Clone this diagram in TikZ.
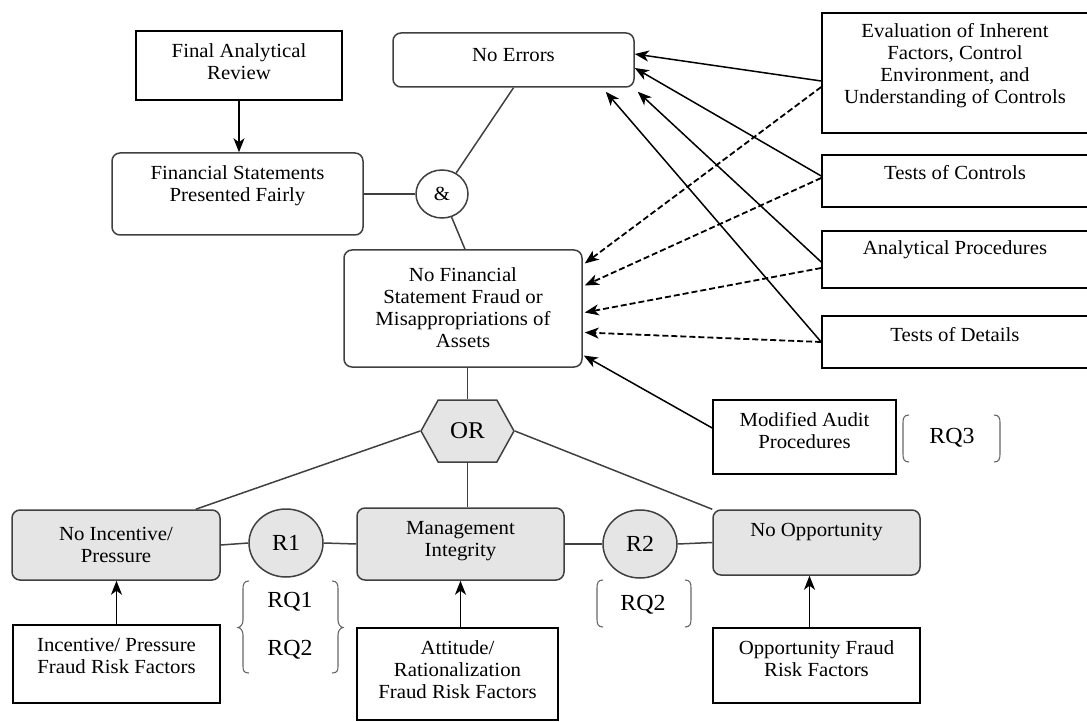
\documentclass[tikz,border=0pt]{standalone}
\usepackage{fontspec}
\setmainfont{Liberation Serif}[FakeStretch=1.04]
\usetikzlibrary{arrows.meta,shapes.symbols,shapes.geometric}
\begin{document}
\begin{tikzpicture}[x=1pt,y=-1pt,
  sq/.style={draw=black, line width=1.6pt, inner sep=0pt},
  rnd/.style={draw=black!75, line width=1.5pt, rounded corners=8pt, inner sep=0pt},
  gry/.style={rnd, fill=black!10},
  txt/.style={inner sep=0pt, align=center, font=\fontsize{20}{22}\selectfont},
  big/.style={inner sep=0pt, font=\fontsize{23}{26}\selectfont},
  arr/.style={-{Stealth[length=14pt,width=11pt,inset=4pt]}, line width=1.5pt},
  darr/.style={arr, dash pattern=on 6pt off 3pt, line width=1.8pt},
  ln/.style={line width=1.5pt, draw=black!75},
  brk/.style={line width=1.1pt, draw=black!60},
]
\useasboundingbox (0,0) rectangle (1087,722);
\clip (0,0) rectangle (1087,722);

% left / centre column
\node[sq, minimum width=206pt, minimum height=69pt] (far) at (239,65.5) {};
\node[txt] (fart) at (239,61.5) {Final Analytical\\Review};

\node[rnd, minimum width=241pt, minimum height=54pt] (noerr) at (513.5,60) {};
\node[txt] (noerrt) at (513.5,55) {No Errors};

\node[rnd, minimum width=251pt, minimum height=82pt] (fspf) at (237.5,194) {};
\node[txt] (fspft) at (237.5,186) {Financial Statements\\Presented Fairly};

\node[ellipse, draw=black!75, line width=1.5pt, fill=white, minimum width=52pt, minimum height=48pt, inner sep=0pt, font=\fontsize{20}{22}\selectfont] (amp) at (442,194) {\&};

\node[rnd, minimum width=238pt, minimum height=117pt] (nfsf) at (463,308.5) {};
\node[txt] (nfsft) at (463,308) {No Financial\\Statement Fraud or\\Misappropriations of\\Assets};

\node[signal, signal to=east and west, signal pointer angle=122, draw=black!75, line width=1.5pt, fill=black!10, minimum width=93pt, minimum height=62pt, inner sep=0pt, font=\fontsize{24}{26}\selectfont] (or) at (467.5,431) {OR};

% gray row
\node[gry, minimum width=208pt, minimum height=70pt] (nip) at (116,545) {};
\node[txt] (nipt) at (116,544.5) {No Incentive/\\Pressure};

\node[ellipse, draw=black!75, line width=1.5pt, fill=black!10, minimum width=74pt, minimum height=68pt, inner sep=0pt, font=\fontsize{23}{26}\selectfont] (r1) at (286,543) {R1};

\node[gry, minimum width=207pt, minimum height=72pt] (mi) at (460.5,544) {};
\node[txt] (mit) at (460.5,541.5) {Management\\Integrity};

\node[ellipse, draw=black!75, line width=1.5pt, fill=black!10, minimum width=74pt, minimum height=68pt, inner sep=0pt, font=\fontsize{23}{26}\selectfont] (r2) at (640,544) {R2};

\node[gry, minimum width=207pt, minimum height=65pt] (no) at (816.5,542.5) {};
\node[txt] (not) at (816.5,532) {No Opportunity};

% bottom row
\node[sq, minimum width=207pt, minimum height=78pt] (ipf) at (116.5,664) {};
\node[txt] (ipft) at (116.5,655.5) {Incentive/ Pressure\\Fraud Risk Factors};

\node[sq, minimum width=201pt, minimum height=92pt] (arf) at (457.5,674) {};
\node[txt] (arft) at (457.5,670) {Attitude/\\Rationalization\\Fraud Risk Factors};

\node[sq, minimum width=207pt, minimum height=75pt] (ofr) at (816.5,665.5) {};
\node[txt] (ofrt) at (816.5,658.5) {Opportunity Fraud\\Risk Factors};

\node[sq, minimum width=183pt, minimum height=74pt] (map) at (804.5,437) {};
\node[txt] (mapt) at (804.5,431) {Modified Audit\\Procedures};

% right column
\node[sq, minimum width=278pt, minimum height=120pt] (eval) at (961,73) {};
\node[txt] (evalt) at (955,65.75) {Evaluation of Inherent\\Factors, Control\\Environment, and\\Understanding of Controls};

\node[sq, minimum width=278pt, minimum height=52pt] (toc) at (961,181) {};
\node[txt] (toct) at (955,173) {Tests of Controls};

\node[sq, minimum width=278pt, minimum height=57pt] (ap) at (961,259.5) {};
\node[txt] (apt) at (955,250) {Analytical Procedures};

\node[sq, minimum width=278pt, minimum height=52pt] (tod) at (961,342) {};
\node[txt] (todt) at (955,335) {Tests of Details};

% RQ labels
\node[big] (rq1) at (290,602) {RQ1};
\node[big] (rq2a) at (290,650) {RQ2};
\node[big] (rq2b) at (643,605) {RQ2};
\node[big] (rq3) at (952,438) {RQ3};

% brackets
\draw[brk] (249,581) .. controls (244,581) and (243,584) .. (243,589) -- (243,620)
  .. controls (243,624) and (241,627) .. (238,627.5)
  .. controls (241,628) and (243,631) .. (243,635) -- (243,666)
  .. controls (243,671) and (244,673) .. (249,673);
\draw[brk] (332,581) .. controls (337,581) and (338,584) .. (338,589) -- (338,620)
  .. controls (338,624) and (340,627) .. (343,627.5)
  .. controls (340,628) and (338,631) .. (338,635) -- (338,666)
  .. controls (338,671) and (337,673) .. (332,673);
\draw[brk] (603,580) .. controls (598,580) and (597,583) .. (597,588) -- (597,619)
  .. controls (597,624) and (598,627) .. (603,627);
\draw[brk] (685,580) .. controls (690,580) and (691,583) .. (691,588) -- (691,619)
  .. controls (691,624) and (690,627) .. (685,627);
\draw[brk] (909,415) .. controls (904,415) and (903,418) .. (903,423) -- (903,454)
  .. controls (903,459) and (904,462) .. (909,462);
\draw[brk] (994,415) .. controls (999,415) and (1000,418) .. (1000,423) -- (1000,454)
  .. controls (1000,459) and (999,462) .. (994,462);

% plain connectors
\draw[ln] (noerr.south) -- (amp);
\draw[ln] (fspf.east) -- (amp.west);
\draw[ln] (amp) -- ([xshift=2pt]nfsf.north);
\draw[ln] (or.north |- nfsf.south) -- (or.north);
\draw[ln] (or.west) -- ([xshift=-25pt]nip.north east);
\draw[ln] (or.east) -- (no.north west);
\draw[ln] (or.south) -- (or.south |- mi.north);
\draw[ln] (nip.east) -- (r1.west);
\draw[ln] (r1.east) -- (mi.west);
\draw[ln] (mi.east) -- (r2.west);
\draw[ln] (r2.east) -- (no.west);

% arrows
\draw[arr] (far.south) -- (far.south |- fspf.north);
\draw[arr] (ipf.north) -- (ipf.north |- nip.south);
\draw[arr] (mi.south |- arf.north) -- (mi.south);
\draw[arr] ([xshift=-7pt]ofr.north) -- ([xshift=-7pt]no.south);

\draw[arr] ([yshift=-8pt]eval.west) -- ([yshift=6pt]noerr.east);
\draw[arr] ([yshift=5pt]toc.west) -- ([yshift=-8pt]noerr.east);
\draw[arr] ([yshift=-2.5pt]ap.west) -- ([xshift=3pt,yshift=-4pt]noerr.south east);
\draw[arr] (tod.west) -- ([xshift=-29pt,yshift=-4pt]noerr.south east);

\draw[darr] ([yshift=-14pt]eval.west) -- ([xshift=2pt,yshift=45pt]nfsf.east);
\draw[darr] ([yshift=3pt]toc.west) -- ([xshift=2pt,yshift=23pt]nfsf.east);
\draw[darr] ([yshift=-8.5pt]ap.west) -- ([xshift=2pt,yshift=-4pt]nfsf.east);
\draw[darr] (tod.west) -- ([xshift=2pt,yshift=-24pt]nfsf.east);
\draw[arr] ([yshift=9pt]map.west) -- ([xshift=1pt,yshift=-47pt]nfsf.east);
\end{tikzpicture}
\end{document}
